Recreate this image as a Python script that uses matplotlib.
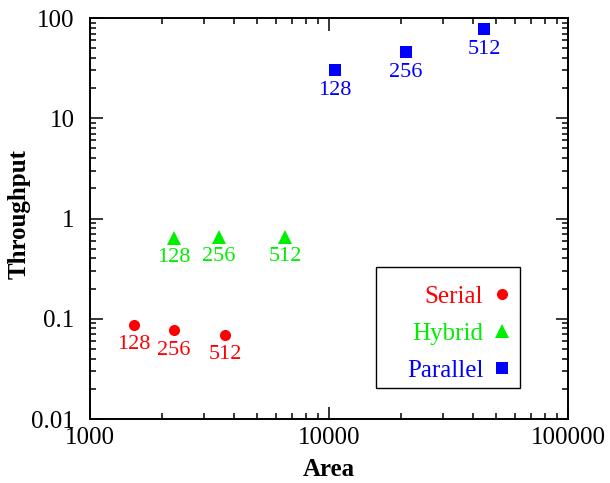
import matplotlib
matplotlib.use("Agg")
import matplotlib.pyplot as plt
from matplotlib.patches import Rectangle
from matplotlib.ticker import LogLocator, FixedLocator, FixedFormatter, NullFormatter

plt.rcParams['font.family'] = ['Liberation Serif', 'DejaVu Serif']
plt.rcParams['mathtext.fontset'] = 'stix'

labels = ["128", "256", "512"]
serial_area = [1530, 2250, 3670]
serial_tp = [0.087, 0.077, 0.069]
hybrid_area = [2250, 3460, 6550]
hybrid_tp = [0.64, 0.66, 0.66]
parallel_area = [10600, 21000, 44500]
parallel_tp = [30.0, 45.5, 77.5]

series = [
    ("Serial", serial_area, serial_tp, "#ff0000", "o", 8),
    ("Hybrid", hybrid_area, hybrid_tp, "#00ee00", "^", 9.5),
    ("Parallel", parallel_area, parallel_tp, "#0000ff", "s", 8),
]

W, H = 610, 483
fig = plt.figure(figsize=(6.1, 4.83), dpi=100)
ax = fig.add_axes([90/W, 1 - 419/H, (568-90)/W, (419-18)/H])

for name, xs, ys, col, mk, ms in series:
    ax.plot(xs, ys, linestyle='none', marker=mk, color=col, markersize=ms,
            markeredgewidth=0, label=name)
    for x, y, lab in zip(xs, ys, labels):
        ax.annotate(lab, (x, y), xytext=(0, -7.5), textcoords='offset points',
                    ha='center', va='top', color=col, fontsize=16)

ax.set_xscale('log')
ax.set_yscale('log')
ax.set_xlim(1000, 100000)
ax.set_ylim(0.01, 100)

ax.xaxis.set_major_locator(FixedLocator([1000, 10000, 100000]))
ax.xaxis.set_major_formatter(FixedFormatter(["1000", "10000", "100000"]))
ax.yaxis.set_major_locator(FixedLocator([0.01, 0.1, 1, 10, 100]))
ax.yaxis.set_major_formatter(FixedFormatter(["0.01", "0.1", "1", "10", "100"]))
ax.xaxis.set_minor_locator(LogLocator(base=10, subs=range(2, 10)))
ax.yaxis.set_minor_locator(LogLocator(base=10, subs=range(2, 10)))
ax.xaxis.set_minor_formatter(NullFormatter())
ax.yaxis.set_minor_formatter(NullFormatter())

ax.tick_params(which='both', direction='in', top=True, right=True, labelsize=18, width=1.1)
ax.tick_params(which='major', length=9)
ax.tick_params(which='minor', length=4.5)
ax.tick_params(axis='x', which='major', pad=6)
ax.tick_params(axis='y', which='major', pad=11)
for s in ax.spines.values():
    s.set_linewidth(1.4)

ax.set_xlabel("Area", fontsize=18, fontweight='bold', labelpad=6)
ax.set_ylabel("Throughput", fontsize=18, fontweight='bold', labelpad=0, y=0.511)

# legend frame
ax.add_patch(Rectangle((376/W, 1 - 388/H), (520-376)/W, (388-267)/H,
                       transform=fig.transFigure, facecolor='white',
                       edgecolor='black', linewidth=1.0, zorder=5, clip_on=False))

leg = ax.legend(loc='upper right', bbox_to_anchor=(509.5/W, 1 - 285.5/H),
                bbox_transform=fig.transFigure, markerfirst=False,
                fontsize=18, frameon=False,
                handletextpad=0.45, labelspacing=0.58, borderpad=0,
                handlelength=0.6, borderaxespad=0)
leg.set_zorder(10)
for txt, (_, _, _, col, _, _) in zip(leg.get_texts(), series):
    txt.set_color(col)

fig.savefig("out.png", dpi=100)
